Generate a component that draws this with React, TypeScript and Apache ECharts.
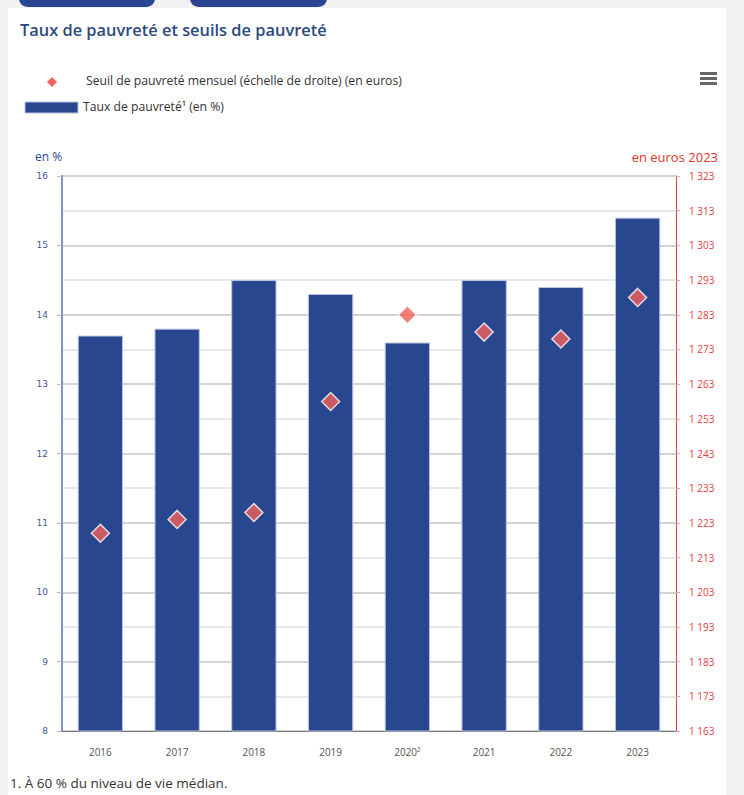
import React, { useEffect, useRef } from "react";
import * as echarts from "echarts";

const categories = ["2016", "2017", "2018", "2019", "2020²", "2021", "2022", "2023"];
const tauxPauvrete = [13.7, 13.8, 14.5, 14.3, 13.6, 14.5, 14.4, 15.4];
const seuilPauvrete = [1220, 1224, 1226, 1258, 1283, 1278, 1276, 1288];

const titleText = "Taux de pauvreté et seuils de pauvreté";
const legendSeuil = "Seuil de pauvreté mensuel (échelle de droite) (en euros)";
const legendTaux = "Taux de pauvreté¹ (en %)";
const leftAxisName = "en %";
const rightAxisName = "en euros 2023";
const footnote = "1. À 60 % du niveau de vie médian.";

const FONT = "'Open Sans', 'Noto Sans', sans-serif";
const BLUE = "#28478f";
const RED = "#f2625d";

export default function App() {
  const ref = useRef<HTMLDivElement>(null);

  useEffect(() => {
    document.body.style.margin = "0";
    if (!ref.current) return;
    const chart = echarts.init(ref.current, null, { renderer: "svg" });
    chart.setOption({
      animation: false,
      backgroundColor: "transparent",
      textStyle: { fontFamily: FONT },
      grid: { left: 62, right: 68, top: 176, bottom: 64, containLabel: false },
      xAxis: {
        type: "category",
        data: categories,
        axisLine: { show: true, lineStyle: { color: "#777", width: 1 } },
        axisTick: { show: false },
        axisLabel: { color: "#555", fontSize: 10, margin: 16, fontFamily: FONT },
        splitLine: { show: false },
      },
      yAxis: [
        {
          type: "value",
          min: 8,
          max: 16,
          interval: 1,
          position: "left",
          axisLine: { show: true, lineStyle: { color: "#8590c8", width: 2 } },
          axisTick: { show: true, inside: false, length: 5, lineStyle: { color: "#bbbbbb" } },
          axisLabel: { color: "#4a5894", fontSize: 9, margin: 14, fontFamily: "'DejaVu Sans', sans-serif" },
          splitLine: { show: false },
        },
        {
          type: "value",
          min: 1163,
          max: 1323,
          interval: 10,
          position: "right",
          axisLine: { show: true, lineStyle: { color: "#e8393a", width: 1 } },
          axisTick: { show: true, inside: false, length: 4, lineStyle: { color: "#f3a0a0" } },
          axisLabel: {
            color: "#e63c40",
            fontSize: 10,
            margin: 13,
            fontFamily: FONT,
            formatter: (v: number) => {
              const s = String(Math.round(v));
              return s.length > 3 ? s.slice(0, s.length - 3) + " " + s.slice(-3) : s;
            },
          },
          splitLine: { show: true, lineStyle: { color: ["#c4c4c4", "#e0e0e0"], width: 1.5 } },
        },
      ],
      series: [
        {
          name: legendTaux,
          type: "bar",
          data: tauxPauvrete,
          yAxisIndex: 0,
          barWidth: "59%",
          itemStyle: { color: BLUE, borderColor: "#b9c3e2", borderWidth: 1 },
          z: 2,
        },
        {
          name: legendSeuil,
          type: "scatter",
          data: seuilPauvrete,
          yAxisIndex: 1,
          symbol: "diamond",
          symbolSize: 18,
          itemStyle: { color: "#f3605a", borderColor: "#ffffff", borderWidth: 1.5 },
          z: 5,
        },
      ],
      graphic: [
        {
          type: "text",
          left: 20,
          top: 21,
          style: { text: titleText, font: `600 16.4px ${FONT}`, fill: "#2b4a80" },
        },
        {
          type: "polygon",
          shape: { points: [[52, 77], [57, 82], [52, 87], [47, 82]] },
          style: { fill: RED },
        },
        {
          type: "text",
          left: 86,
          top: 74,
          style: { text: legendSeuil, font: `12.2px ${FONT}`, fill: "#333" },
        },
        {
          type: "rect",
          shape: { x: 25, y: 102, width: 53, height: 11 },
          style: { fill: BLUE, stroke: "#b9c3e2", lineWidth: 1 },
        },
        {
          type: "text",
          left: 83,
          top: 100,
          style: { text: legendTaux, font: `12.2px ${FONT}`, fill: "#333" },
        },
        { type: "rect", shape: { x: 700, y: 72, width: 17, height: 3 }, style: { fill: "#666" } },
        { type: "rect", shape: { x: 700, y: 77, width: 17, height: 3 }, style: { fill: "#666" } },
        { type: "rect", shape: { x: 700, y: 82, width: 17, height: 3 }, style: { fill: "#666" } },
        {
          type: "text",
          left: 35,
          top: 150,
          style: { text: leftAxisName, font: `12px ${FONT}`, fill: "#2c4a9a" },
        },
        {
          type: "text",
          right: 26,
          top: 150,
          style: { text: rightAxisName, font: `13px ${FONT}`, fill: "#e5322d", align: "right" },
        },
        {
          type: "text",
          left: 10,
          top: 776,
          style: { text: footnote, font: `13.5px ${FONT}`, fill: "#333" },
        },
      ],
    });
    return () => chart.dispose();
  }, []);

  return (
    <div style={{ position: "relative", width: 744, height: 795, background: "#f2f2f2", overflow: "hidden" }}>
      <div style={{ position: "absolute", left: 19, top: -10, width: 136, height: 17, borderRadius: 10, background: "#2a4690" }} />
      <div style={{ position: "absolute", left: 190, top: -10, width: 137, height: 17, borderRadius: 10, background: "#2a4690" }} />
      <div style={{ position: "absolute", left: 8, top: 8, width: 718, height: 787, background: "#ffffff" }} />
      <div ref={ref} style={{ position: "absolute", left: 0, top: 0, width: 744, height: 795 }} />
    </div>
  );
}
